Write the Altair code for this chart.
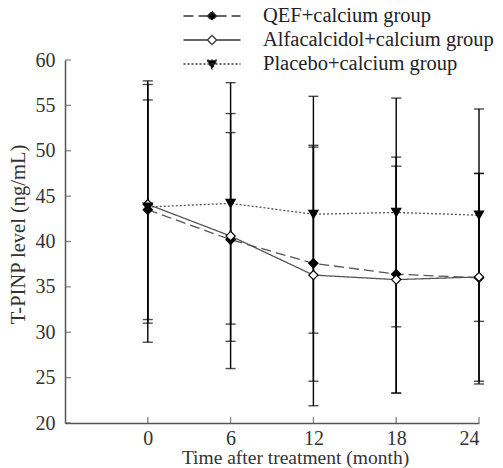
import altair as alt
import pandas as pd

months = [0, 6, 12, 18, 24]
y_ticks = [20, 25, 30, 35, 40, 45, 50, 55, 60]
groups = ["QEF+calcium group", "Alfacalcidol+calcium group", "Placebo+calcium group"]

qef_mean = [43.5, 40.2, 37.6, 36.4, 36.0]
qef_low = [31.4, 29.0, 24.6, 23.3, 24.6]
qef_high = [55.6, 52.0, 50.4, 49.3, 47.5]

alfa_mean = [44.1, 40.6, 36.3, 35.8, 36.1]
alfa_low = [31.0, 30.9, 21.9, 23.3, 24.3]
alfa_high = [57.3, 54.1, 50.6, 48.3, 47.5]

plac_mean = [43.8, 44.2, 43.0, 43.2, 42.9]
plac_low = [28.9, 26.0, 29.9, 30.6, 31.2]
plac_high = [57.7, 57.5, 56.0, 55.8, 54.6]

rows = []
for g, mm, lo, hi in [(groups[0], qef_mean, qef_low, qef_high),
                      (groups[1], alfa_mean, alfa_low, alfa_high),
                      (groups[2], plac_mean, plac_low, plac_high)]:
    for m, v, l, h in zip(months, mm, lo, hi):
        rows.append({"month": m, "group": g, "mean": v, "low": l, "high": h})
df = pd.DataFrame(rows)

FONT = "Liberation Serif"
X_MIN, X_MAX = -6, 24
Y_MIN, Y_MAX = 20, 60

xscale = alt.Scale(domain=[X_MIN, X_MAX], nice=False, zero=False)
yscale = alt.Scale(domain=[Y_MIN, Y_MAX], nice=False, zero=False)

xaxis = alt.Axis(values=months, title="Time after treatment (month)", grid=False,
                 ticks=False, labelPadding=5, titleX=230, titleY=40,
                 titleBaseline="alphabetic", titleFontSize=19.5)
yaxis = alt.Axis(values=y_ticks, title="T-PINP level (ng/mL)", grid=False,
                 ticks=False, labelPadding=10, titleX=-41, titleY=174, titleAngle=270,
                 titleBaseline="alphabetic", titleFontSize=20.5)

base = alt.Chart(df)

bars = base.mark_rule(color="black", strokeWidth=1.4).encode(
    x=alt.X("month:Q", scale=xscale, axis=xaxis),
    y=alt.Y("low:Q", scale=yscale, axis=yaxis),
    y2="high:Q",
)
caps_lo = base.mark_tick(color="black", orient="horizontal", size=10, thickness=1.4).encode(
    x="month:Q", y="low:Q")
caps_hi = base.mark_tick(color="black", orient="horizontal", size=10, thickness=1.4).encode(
    x="month:Q", y="high:Q")

# inward axis ticks
xt = alt.Chart(pd.DataFrame({"month": months})).mark_tick(
    color="#555", orient="vertical", size=6, thickness=1.3, yOffset=-3).encode(
    x="month:Q", y=alt.datum(Y_MIN))
yt = alt.Chart(pd.DataFrame({"v": y_ticks})).mark_tick(
    color="#555", orient="horizontal", size=6, thickness=1.3, xOffset=3).encode(
    x=alt.datum(X_MIN), y="v:Q")

dash_range = [[10, 5], [1, 0], [2, 2]]
fill_range = ["black", "white", "black"]

lines = base.mark_line(color="#555", strokeWidth=1.3).encode(
    x="month:Q", y="mean:Q",
    strokeDash=alt.StrokeDash("group:N", scale=alt.Scale(domain=groups, range=dash_range), legend=None),
)

points = base.mark_point(size=85, strokeWidth=1.2, opacity=1, stroke="black").encode(
    x="month:Q", y="mean:Q",
    shape=alt.Shape("group:N", scale=alt.Scale(domain=groups, range=["diamond", "diamond", "triangle-down"]), legend=None),
    fill=alt.Fill("group:N", scale=alt.Scale(domain=groups, range=fill_range), legend=None),
)

# legend symbols: line segment with marker (unit = 10 px)
p1 = "M-2.85,0L-0.46,0M0.46,0L2.85,0M0,-0.46L0.46,0L0,0.46L-0.46,0Z"
p3 = "M-2.85,0L2.85,0M-0.5,-0.38L0.5,-0.38L0,0.5Z"
leg_kw = dict(title=None, orient="none", legendX=136, legendY=-55, padding=0,
              labelFont=FONT, labelFontSize=20.5, labelColor="#222", rowPadding=2,
              symbolSize=400, symbolStrokeWidth=1.3, symbolStrokeColor="#333",
              labelOffset=40, symbolOpacity=1, labelLimit=400)
legend_layer = base.mark_point(size=400, strokeWidth=1.3, opacity=1).encode(
    x="month:Q", y="mean:Q",
    shape=alt.Shape("group:N", scale=alt.Scale(domain=groups, range=[p1, p1, p3]), legend=alt.Legend(**leg_kw)),
    fill=alt.Fill("group:N", scale=alt.Scale(domain=groups, range=fill_range), legend=alt.Legend(**leg_kw)),
    stroke=alt.Stroke("group:N", scale=alt.Scale(domain=groups, range=["#333", "#333", "#333"]), legend=alt.Legend(**leg_kw)),
    strokeDash=alt.StrokeDash("group:N", scale=alt.Scale(domain=groups, range=dash_range), legend=alt.Legend(**leg_kw)),
).transform_filter("false")

chart = alt.layer(bars, caps_lo, caps_hi, xt, yt, lines, points, legend_layer).resolve_scale(
    shape="independent", fill="independent", strokeDash="independent", stroke="independent"
).properties(
    width=414, height=363,
    autosize=alt.AutoSizeParams(type="none"),
    padding={"left": 57, "top": 52, "right": 16, "bottom": 45},
).configure_view(stroke=None).configure_axis(
    domainColor="#555", domainWidth=1.5,
    labelFont=FONT, labelFontSize=20, labelColor="#333",
    titleFont=FONT, titleFontWeight="normal", titleColor="#333",
).configure_legend(labelFont=FONT, labelFontSize=20.5, labelColor="#222", labelLimit=400)

chart.save("out.html", embed_options={"renderer": "svg", "actions": False})
